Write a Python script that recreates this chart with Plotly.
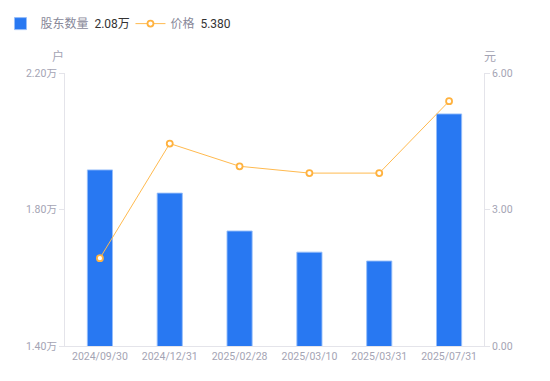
import plotly.graph_objects as go

categories = ["2024/09/30", "2024/12/31", "2025/02/28", "2025/03/10", "2025/03/31", "2025/07/31"]
holders_wan = [1.916, 1.848, 1.737, 1.675, 1.649, 2.080]
price = [1.93, 4.45, 3.95, 3.80, 3.80, 5.38]

left_ticks = [1.40, 1.80, 2.20]
right_ticks = [0.0, 3.0, 6.0]

latest_holders = "2.08万"
latest_price = "5.380"

FONT = "Roboto, 'Noto Sans CJK SC', sans-serif"
GREY = "#a4a4b4"
AXIS = "#e4e4ea"

fig = go.Figure()
fig.add_trace(go.Bar(
    x=categories, y=holders_wan, yaxis="y",
    name=f"股东数量  <span style='color:#333333'>{latest_holders}</span>",
    marker=dict(color="#2878F2", line=dict(color="rgba(150,190,250,0.9)", width=1)),
    width=0.36,
))
fig.add_trace(go.Scatter(
    x=categories, y=price, yaxis="y2", mode="lines+markers",
    name=f"价格  <span style='color:#333333'>{latest_price}</span>",
    line=dict(color="#FFBA4F", width=1),
    marker=dict(symbol="circle", size=6, color="white", line=dict(color="#FFB23F", width=1.8)),
))

fig.update_layout(
    width=550, height=381,
    margin=dict(l=65, r=66, t=73, b=35, autoexpand=False),
    paper_bgcolor="white", plot_bgcolor="white",
    font=dict(family=FONT, size=11, color=GREY),
    showlegend=True,
    legend=dict(orientation="h", x=-0.154, y=1.234, xanchor="left", yanchor="top",
                font=dict(size=12, color="#888899"), itemwidth=30,
                traceorder="normal", entrywidth=85, entrywidthmode="pixels"),
    xaxis=dict(showline=True, linecolor=AXIS, linewidth=1, ticks="", showgrid=False,
               tickfont=dict(size=10.5, color=GREY), mirror=False),
    yaxis=dict(range=[1.40, 2.20], tickmode="array", tickvals=left_ticks,
               ticktext=[f"{v:.2f}万" for v in left_ticks],
               showline=True, linecolor=AXIS, ticks="outside", ticklen=5, tickcolor=AXIS,
               showgrid=False, zeroline=False, tickfont=dict(size=10.5, color=GREY)),
    yaxis2=dict(range=[0, 6], tickmode="array", tickvals=right_ticks,
                ticktext=[f"{v:.2f}" for v in right_ticks], overlaying="y", side="right",
                showline=True, linecolor=AXIS, ticks="outside", ticklen=5, tickcolor=AXIS,
                showgrid=False, zeroline=False, tickfont=dict(size=10.5, color=GREY)),
    bargap=0.64,
    annotations=[
        dict(text="户", xref="paper", yref="paper", x=-0.017, y=1.059, xanchor="center",
             yanchor="middle", showarrow=False, font=dict(size=12, color=GREY)),
        dict(text="元", xref="paper", yref="paper", x=1.014, y=1.059, xanchor="center",
             yanchor="middle", showarrow=False, font=dict(size=12, color=GREY)),
    ],
)

fig.write_html("out.html", config={"displayModeBar": False},
               post_script="document.body.style.margin='0';")
